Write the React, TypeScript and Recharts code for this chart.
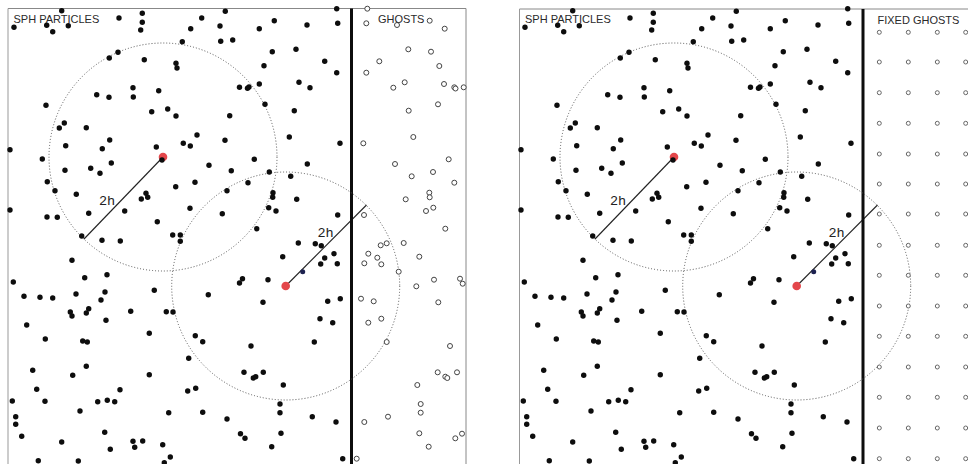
import React from 'react';
import { ScatterChart, Scatter, XAxis, YAxis, ReferenceLine } from 'recharts';

// particle positions, in panel units (1 unit = 1px, y downward)
const sphParticles: [number, number][] = [
  [61.7, 10.7], [14, 27.3], [46.7, 25.3], [52.7, 31.7], [68.3, 25.7], [119, 18], [142.3, 13.3], [142.3, 22.3],
  [140.7, 30], [201.7, 18], [190.7, 28.7], [225.3, 11.3], [220, 26], [220.7, 41.3], [232.7, 40], [182.3, 41.7],
  [118, 52.3], [109.3, 58], [144.3, 59.7], [176, 63.3], [177, 68], [239.5, 87.3], [96.7, 94.7], [109, 97.3],
  [133, 87.7], [133.3, 97], [158.7, 90.7], [46, 105.3], [151.7, 111.7], [167.7, 109], [176, 116], [229.7, 115.7],
  [64.3, 123], [59.3, 128], [86.3, 127.7], [197, 135], [109.7, 140], [65.7, 145.7], [102.3, 148.7], [156.3, 147],
  [183.3, 143.3], [190.3, 146], [225, 140.3], [10, 149.7], [42.3, 159], [111.3, 163], [162, 160], [65, 170.3],
  [90.7, 168.3], [100, 173.3], [209, 165.3], [231.3, 170.7], [47.3, 181.7], [55, 190.7], [76.3, 194.3], [175.7, 186.7],
  [195, 182.3], [227, 190.7], [146, 193.3], [147.7, 197.3], [141.3, 199], [190, 208.3], [222.3, 213.7], [10, 210],
  [47, 217], [57.3, 217.3], [88.7, 213.3], [124.7, 211], [157.3, 221.7],
  [336.7, 8.7], [274.3, 20.7], [259.3, 28.7], [307, 25], [337.7, 23.3], [272.3, 51.7], [296, 49.3], [324.7, 61.3],
  [264, 65.7], [336.7, 72.7], [247.5, 88.3], [249, 87], [259.3, 84], [299, 82.3], [310, 87.7], [265, 104.3],
  [294.3, 110.7], [289.3, 137], [340, 143.3], [254.3, 159.3], [307.3, 164], [269.3, 172], [290.7, 176.3], [248, 182.7],
  [273, 192.7], [272.7, 197.3], [296.7, 199.3], [268.7, 207.7], [276, 211], [337.7, 215], [256.7, 228.7],
  [81.7, 236], [102, 240.3], [120.3, 241], [172.7, 235], [180.3, 235], [180.3, 241.3], [72, 260.3], [13.3, 282],
  [84.7, 277.7], [107, 274.7], [154.3, 290.3], [239.5, 283], [208.3, 294.7], [24, 296.3], [40, 297.3], [52.7, 298],
  [76, 294], [105, 292], [101, 300], [70.3, 312], [72, 316], [86.3, 313], [88.7, 308.7], [106, 320.3],
  [130.7, 311.3], [166.3, 311.7], [173, 312], [26.7, 325], [45.3, 339], [82.7, 341], [87.3, 342], [149.3, 333.3],
  [195.3, 335.7], [202.7, 341.7], [188.7, 358.3], [32.7, 370.3], [72.7, 375.3], [86.3, 366.3], [149.3, 374.7], [36.7, 389.3],
  [120, 389.7], [187.7, 391], [195.7, 388.3], [12.3, 401], [45, 401.3], [97.7, 401.7], [107.3, 400.3], [114.7, 401.7],
  [80, 411], [168.7, 412.7], [202.7, 412.3], [227, 419], [15.7, 416.7], [15.7, 424.3], [21.7, 436.3], [61.7, 442],
  [104.7, 432.3], [133, 441.3], [134.7, 447.3], [142.7, 441], [162.7, 444.7], [110.3, 449.3], [240.5, 433.7], [38.3, 460.7],
  [78.3, 461], [170.3, 457], [164.3, 462.7],
  [298.3, 243], [315.3, 243.7], [321.3, 245.7], [282.7, 256.7], [324.7, 258], [334, 253.7], [320.7, 264], [337.3, 263.7],
  [242.5, 278.7], [268, 279.7], [263, 302.3], [327.7, 301.3], [340.3, 298.7], [320, 318.7], [332.7, 322.7], [314.3, 342],
  [251, 346], [244, 372.3], [253.3, 378], [255.7, 376.7], [263.3, 372.3], [283.3, 385], [280, 404], [280, 412.7],
  [312.3, 416.7], [336, 422], [245, 438.3], [281, 433.3], [271.7, 446.7], [342.7, 458.7],
];

const markedParticle: [number, number][] = [[302.7, 271.7]];

const ghostParticles: [number, number][] = [
  [367.3, 8.7], [366.3, 23.3], [397, 25], [429.7, 20.7], [444.7, 28.7], [408.3, 49.3], [431, 51.7], [379.3, 61.3],
  [439.3, 66], [366.3, 72.7], [404.7, 82.3], [393.3, 87.7], [444, 84], [454.3, 87.3], [455.5, 88.5], [463.7, 87.3],
  [408.7, 110.7], [438, 104.3], [413.3, 137], [363.3, 143.3], [448.7, 159.3], [395, 164], [411.7, 176.3], [433, 172],
  [454.3, 182.7], [429.3, 192.7], [429.7, 197.3], [405.7, 199.3], [433.3, 207.7], [426, 211], [364, 215], [445.3, 228.7],
  [380.7, 245.3], [386.7, 243.3], [403.7, 243], [368.3, 253.7], [377.3, 257.7], [364.3, 263.3], [381.3, 264.3], [419.3, 256.7],
  [398.7, 271.7], [416.3, 286.3], [434, 279.7], [460, 278.7], [462.7, 283.7], [361, 298.7], [373.7, 301.3], [438.3, 302.3],
  [368.3, 322.7], [381.3, 318.7], [386.7, 342], [450, 346], [417.3, 385], [437.7, 372.3], [445.3, 376.7], [447.3, 378],
  [457, 372.3], [420.7, 404], [420.7, 412.7], [388, 416.7], [364.3, 422], [419.3, 433.3], [428.7, 446.7], [455.3, 438.3],
  [462, 433.7], [356.7, 458.7],
];

const fixedGhostCols = [368.3, 397.3, 426.3, 454.7];
const fixedGhostRows = [32.3, 62, 92.7, 123.3, 154, 184, 214, 245.3, 275.3, 306, 336.3, 367, 397.3, 428, 458.7];

// kernel centres and the ends of their 2h radius lines
const kernelCentres: [number, number][] = [[163, 157], [285.7, 286]];
const radiusEnds: [number, number][] = [[84, 239], [366.5, 205]];
const kernelRadius = 114;
const radiusLabels: [number, number][] = [[99, 204.5], [317.5, 236.5]];

const toPts = (arr: [number, number][]) => arr.map(([x, y]) => ({ x, y }));

const fixedGhosts = fixedGhostRows.flatMap((y) => fixedGhostCols.map((x) => ({ x, y })));

const dot = (r: number, fill: string) => (p: any) => <circle cx={p.cx} cy={p.cy} r={r} fill={fill} />;
const ring = (r: number, stroke: string, w: number) => (p: any) => (
  <circle cx={p.cx} cy={p.cy} r={r} fill="#fff" stroke={stroke} strokeWidth={w} />
);
const label = (size: number, family: string, fill: string) => (p: any) => (
  <text x={p.cx} y={p.cy} fontSize={size} fontFamily={family} fill={fill}>{p.payload.text}</text>
);

interface PanelProps {
  width: number;
  wallX: number;
  frame: { left: number; top: number; right: number };
  title: string;
  ghostTitle: string;
  ghostTitleX: number;
  fixed: boolean;
}

const Panel = ({ width, wallX, frame, title, ghostTitle, ghostTitleX, fixed }: PanelProps) => (
  <ScatterChart width={width} height={464} margin={{ top: 0, right: 0, bottom: 0, left: 0 }}>
    <XAxis type="number" dataKey="x" domain={[0, width]} hide allowDataOverflow />
    <YAxis type="number" dataKey="y" domain={[0, 464]} reversed hide allowDataOverflow />

    {/* dotted kernel support circles */}
    <Scatter
      data={toPts(kernelCentres)}
      isAnimationActive={false}
      shape={(p: any) => (
        <circle cx={p.cx} cy={p.cy} r={kernelRadius} fill="none" stroke="#555" strokeWidth={1} strokeDasharray="1 2" />
      )}
    />

    {fixed ? (
      <Scatter data={fixedGhosts} isAnimationActive={false} shape={ring(2, '#666', 1)} />
    ) : (
      <Scatter data={toPts(ghostParticles)} isAnimationActive={false} shape={ring(2.5, '#444', 1)} />
    )}

    {kernelCentres.map(([x, y], i) => (
      <ReferenceLine
        key={i}
        segment={[{ x, y }, { x: radiusEnds[i][0], y: radiusEnds[i][1] }]}
        stroke="#222"
        strokeWidth={1.1}
        ifOverflow="visible"
      />
    ))}

    <Scatter data={toPts(kernelCentres)} isAnimationActive={false} shape={dot(4.3, '#e4474b')} />
    <Scatter data={toPts(sphParticles)} isAnimationActive={false} shape={dot(2.7, '#0d0d0d')} />
    <Scatter data={toPts(markedParticle)} isAnimationActive={false} shape={dot(2.5, '#1d2250')} />

    {/* frame and wall */}
    <ReferenceLine segment={[{ x: frame.left, y: frame.top }, { x: frame.right, y: frame.top }]} stroke="#888" strokeWidth={1} ifOverflow="visible" />
    <ReferenceLine segment={[{ x: frame.left, y: frame.top }, { x: frame.left, y: 464 }]} stroke="#999" strokeWidth={1} ifOverflow="visible" />
    {frame.right < width && (
      <ReferenceLine segment={[{ x: frame.right, y: frame.top }, { x: frame.right, y: 464 }]} stroke="#888" strokeWidth={1} ifOverflow="visible" />
    )}
    <ReferenceLine segment={[{ x: wallX, y: frame.top }, { x: wallX, y: 464 }]} stroke="#0d0d0d" strokeWidth={3} ifOverflow="visible" />

    <Scatter
      data={radiusLabels.map(([x, y]) => ({ x, y, text: '2h' }))}
      isAnimationActive={false}
      shape={label(13.5, '"Liberation Mono", monospace', '#222')}
    />
    <Scatter
      data={[
        { x: frame.left + 5.5, y: frame.top + 14, text: title },
        { x: ghostTitleX, y: frame.top + 14.5, text: ghostTitle },
      ]}
      isAnimationActive={false}
      shape={label(11, '"Liberation Sans", Arial, sans-serif', '#2a2a2a')}
    />
  </ScatterChart>
);

export default function App() {
  return (
    <div style={{ position: 'relative', width: 968, height: 464, overflow: 'hidden', background: '#fff' }}>
      <style>{'body{margin:0;overflow:hidden;background:#fff}'}</style>
      <div style={{ position: 'absolute', left: 0, top: 0 }}>
        <Panel
          width={480}
          wallX={351.5}
          frame={{ left: 8, top: 8.5, right: 466 }}
          title="SPH PARTICLES"
          ghostTitle="GHOSTS"
          ghostTitleX={378}
          fixed={false}
        />
      </div>
      <div style={{ position: 'absolute', left: 511, top: 0 }}>
        <Panel
          width={457}
          wallX={352}
          frame={{ left: 8.5, top: 9, right: 470 }}
          title="SPH PARTICLES"
          ghostTitle="FIXED GHOSTS"
          ghostTitleX={366.5}
          fixed={true}
        />
      </div>
    </div>
  );
}
